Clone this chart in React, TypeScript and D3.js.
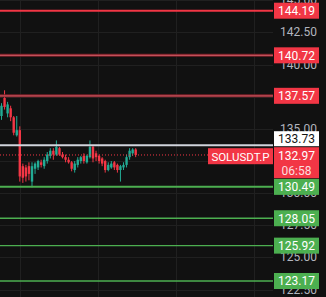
import React from 'react';
import * as d3 from 'd3';

const W = 326;
const H = 297;
const PLOT_RIGHT = 273;

// Candle data (OHLC)
const opens = [136.0, 137.4, 136.2, 136.6, 135.9, 134.5, 134.9, 132.1, 132.0, 132.1, 130.9, 131.9, 132.0, 132.4, 132.1, 132.5, 132.9, 133.3, 133.0, 133.5, 133.0, 132.8, 132.6, 132.4, 131.8, 132.2, 132.5, 132.9, 132.4, 132.8, 133.6, 133.1, 132.9, 132.7, 132.5, 131.8, 132.0, 132.4, 132.2, 131.8, 132.0, 132.2, 132.8, 133.1, 133.4];
const highs = [137.0, 138.0, 137.1, 136.8, 136.0, 136.0, 135.2, 132.3, 132.2, 132.4, 132.4, 132.4, 132.6, 132.6, 132.8, 133.2, 133.5, 133.5, 134.1, 133.6, 133.2, 133.0, 132.8, 132.5, 132.5, 132.8, 132.9, 133.1, 133.0, 134.1, 133.7, 133.3, 133.0, 132.8, 132.6, 132.4, 132.5, 132.5, 132.3, 132.2, 132.4, 133.0, 133.5, 133.5, 133.5];
const lows = [135.7, 136.5, 135.9, 135.6, 134.5, 134.4, 130.9, 130.8, 130.9, 131.0, 130.45, 131.5, 131.8, 132.0, 131.9, 132.3, 132.7, 132.6, 132.9, 132.9, 132.7, 132.4, 132.3, 131.7, 131.6, 132.0, 132.3, 132.3, 132.3, 132.7, 132.4, 132.5, 132.3, 132.1, 131.6, 131.7, 131.9, 131.8, 131.6, 130.9, 131.8, 132.0, 132.6, 132.9, 132.8];
const closes = [136.8, 136.7, 136.9, 135.9, 134.7, 134.9, 131.3, 131.2, 131.3, 131.5, 132.1, 132.3, 132.5, 132.2, 132.6, 133.0, 133.3, 133.0, 133.6, 133.0, 132.8, 132.6, 132.4, 131.9, 132.3, 132.6, 132.8, 132.5, 132.9, 133.6, 132.7, 132.8, 132.5, 132.3, 131.8, 132.2, 132.3, 132.0, 131.8, 132.1, 132.2, 132.8, 133.3, 133.4, 132.97];

// Horizontal level lines
const redLevels = [144.19, 140.72, 137.57];
const greenLevels = [130.49, 128.05, 125.92, 123.17];
const tickValues = [145, 142.5, 140, 137.5, 135, 132.5, 130, 127.5, 125, 122.5];
const markPrice = 133.73;
const lastPrice = 132.97;
const countdown = '06:58';
const symbol = 'SOLUSDT.P';

const RED = '#f23645';
const GREEN = '#4caf50';
const UP = '#22ab94';
const BG = '#111111';
const GRID = '#202020';
const FONT = 'Roboto, "Liberation Sans", Arial, sans-serif';

export default function App() {
  const n = closes.length;
  const y = d3.scaleLinear().domain([123.17, 144.19]).range([281, 10.7]);
  const x = d3.scaleLinear().domain([0, n - 1]).range([1.5, 135.7]);
  const gridX = d3.range(20, PLOT_RIGHT, 78);
  const fmt = d3.format('.2f');

  const labelX = 274;
  const labelW = 45;
  const labelCx = labelX + labelW / 2;
  const boxH = 16;
  const fs = 12;

  const markY = y(markPrice);
  const markBoxBottom = markY + 1;
  const lastBoxTop = markBoxBottom + 1;
  const lastBoxH = 31;

  return (
    <div style={{ position: 'fixed', left: 0, top: 0, width: W, height: H, background: BG }}>
      <svg width={W} height={H} style={{ display: 'block' }} fontFamily={FONT}>
        <rect width={W} height={H} fill={BG} />
        {/* grid */}
        {tickValues.map((t) => (
          <line key={'hg' + t} x1={0} x2={PLOT_RIGHT} y1={Math.round(y(t)) + 0.5} y2={Math.round(y(t)) + 0.5} stroke={GRID} strokeWidth={1} />
        ))}
        {gridX.map((gx) => (
          <line key={'vg' + gx} x1={gx + 0.5} x2={gx + 0.5} y1={0} y2={H} stroke={GRID} strokeWidth={1} />
        ))}
        {/* tick labels */}
        {tickValues.map((t) => (
          <text key={'tl' + t} x={317} y={y(t) + 4} textAnchor="end" fontSize={fs} fill="#b2b5be">
            {fmt(t)}
          </text>
        ))}
        {/* candles */}
        {closes.map((c, i) => {
          const o = opens[i];
          const up = c >= o;
          const col = up ? UP : RED;
          const cx = x(i);
          const top = y(Math.max(o, c));
          const bot = y(Math.min(o, c));
          return (
            <g key={'c' + i}>
              <line x1={cx} x2={cx} y1={y(highs[i])} y2={y(lows[i])} stroke={col} strokeWidth={1} />
              <rect x={cx - 1.2} y={top} width={2.4} height={Math.max(1, bot - top)} fill={col} />
            </g>
          );
        })}
        {/* red levels */}
        {redLevels.map((p, i) =>
          i === 0 ? (
            <line key={'rl' + p} x1={0} x2={PLOT_RIGHT} y1={y(p)} y2={y(p)} stroke={RED} strokeWidth={2} />
          ) : (
            <g key={'rl' + p}>
              <line x1={0} x2={PLOT_RIGHT} y1={y(p)} y2={y(p)} stroke="#7a1f27" strokeWidth={3} />
              <line x1={0} x2={PLOT_RIGHT} y1={y(p)} y2={y(p)} stroke="#c2505a" strokeWidth={1.2} />
            </g>
          )
        )}
        {/* green levels */}
        {greenLevels.map((p, i) => (
          <line key={'gl' + p} x1={0} x2={PLOT_RIGHT} y1={y(p)} y2={y(p)} stroke={GREEN} strokeWidth={i === 0 ? 2 : 1.3} />
        ))}
        {/* mark price line */}
        <line x1={0} x2={PLOT_RIGHT} y1={markY} y2={markY} stroke="#d1d4dc" strokeWidth={2} />
        {/* last price dotted */}
        <line x1={0} x2={208} y1={y(lastPrice)} y2={y(lastPrice)} stroke={RED} strokeWidth={1} strokeDasharray="1 2" />
        {/* labels */}
        {redLevels.map((p) => (
          <g key={'rlab' + p}>
            <rect x={labelX} y={y(p) - boxH / 2} width={labelW} height={boxH} fill={RED} />
            <text x={labelCx} y={y(p) + 4.3} textAnchor="middle" fontSize={fs} fill="#fff">{fmt(p)}</text>
          </g>
        ))}
        {greenLevels.map((p) => (
          <g key={'glab' + p}>
            <rect x={labelX} y={y(p) - boxH / 2} width={labelW} height={boxH} fill={GREEN} />
            <text x={labelCx} y={y(p) + 4.3} textAnchor="middle" fontSize={fs} fill="#fff">{fmt(p)}</text>
          </g>
        ))}
        <rect x={labelX} y={markBoxBottom - 15} width={labelW} height={15} fill="#ffffff" />
        <text x={labelCx} y={markBoxBottom - 3.3} textAnchor="middle" fontSize={fs} fill="#131313">{fmt(markPrice)}</text>
        <rect x={labelX} y={lastBoxTop} width={labelW} height={lastBoxH} fill={RED} />
        <text x={labelCx} y={lastBoxTop + 13} textAnchor="middle" fontSize={fs} fill="#fff">{fmt(lastPrice)}</text>
        <text x={labelCx} y={lastBoxTop + 28} textAnchor="middle" fontSize={fs} fill="#fff" fillOpacity={0.85}>{countdown}</text>
        <rect x={208} y={lastBoxTop + 1} width={PLOT_RIGHT - 208} height={16} fill={RED} />
        <text x={(208 + PLOT_RIGHT) / 2} y={lastBoxTop + 13.3} textAnchor="middle" fontSize={11.5} fill="#fff">{symbol}</text>
      </svg>
    </div>
  );
}
